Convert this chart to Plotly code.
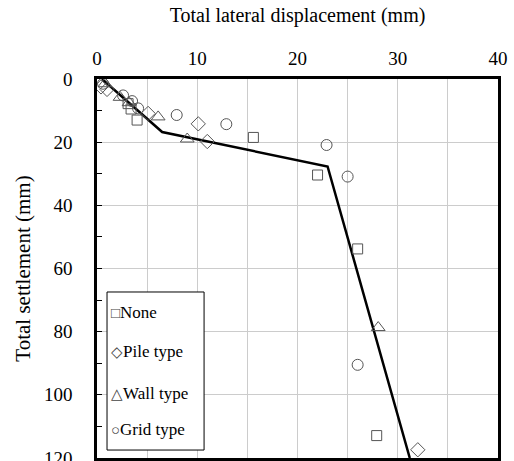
import plotly.graph_objects as go

# Data
none_x = [3.1, 3.4, 4.0, 15.6, 22.0, 26.0, 27.9]
none_y = [7.8, 9.5, 13.0, 18.5, 30.4, 53.8, 112.9]
pile_x = [0.4, 1.0, 5.1, 10.1, 11.0, 32.0]
pile_y = [2.5, 3.3, 10.9, 14.2, 19.8, 117.4]
wall_x = [0.8, 2.3, 3.2, 6.1, 9.0, 28.05]
wall_y = [1.5, 5.8, 7.5, 12.0, 19.0, 78.7]
grid_x = [0.6, 2.6, 3.5, 4.1, 7.95, 12.9, 22.9, 25.0, 26.0]
grid_y = [1.5, 5.2, 7.0, 9.3, 11.4, 14.3, 20.9, 30.9, 90.5]
fit_x = [0.5, 6.5, 23.0, 31.2]
fit_y = [0.0, 16.8, 27.7, 120.0]

series = [
    ("None", "□", none_x, none_y, "square-open", 10),
    ("Pile type", "◇", pile_x, pile_y, "diamond-open", 11),
    ("Wall type", "△", wall_x, wall_y, "triangle-up-open", 12),
    ("Grid type", "○", grid_x, grid_y, "circle-open", 11),
]

font = "Liberation Serif, Times New Roman, serif"

fig = go.Figure()
fig.add_trace(go.Scatter(x=fit_x, y=fit_y, mode="lines",
                         line=dict(color="black", width=2.5),
                         showlegend=False, hoverinfo="skip"))
for i, (name, glyph, xs, ys, sym, sz) in enumerate(series):
    fig.add_trace(go.Scatter(x=xs, y=ys, mode="markers", name=name,
                             showlegend=False,
                             marker=dict(symbol=sym, size=sz, color="#555555",
                                         line=dict(width=1, color="#555555"))))

# manual legend box
fig.add_shape(type="rect", xref="paper", yref="paper",
              x0=0.025, x1=0.267, y0=0.021, y1=0.438,
              line=dict(color="black", width=1), fillcolor="white", layer="above")
leg_y = [0.385, 0.282, 0.171, 0.074]
for (name, glyph, *_), yy in zip(series, leg_y):
    fig.add_annotation(xref="paper", yref="paper", x=0.03, y=yy,
                       xanchor="left", yanchor="middle", showarrow=False,
                       text=f"<span style='font-size:15px;color:#444'>{glyph}</span>{name}",
                       font=dict(family=font, size=17, color="black"))

fig.update_layout(
    width=514, height=461,
    margin=dict(l=97, r=16, t=79, b=3, autoexpand=False),
    paper_bgcolor="white", plot_bgcolor="white",
    font=dict(family=font, size=18, color="black"),
    showlegend=False,
    xaxis=dict(side="top", range=[0, 40], dtick=10, tick0=0, automargin=False,
               showgrid=True, gridcolor="#cccccc", gridwidth=1,
               minor=dict(dtick=5, showgrid=True, gridcolor="#cccccc"),
               showline=True, linecolor="black", linewidth=2.5, mirror=True,
               ticks="", zeroline=False, ticklabelstandoff=4,
               title=dict(text="Total lateral displacement (mm)",
                          font=dict(family=font, size=20), standoff=20),
               tickfont=dict(family=font, size=19)),
    yaxis=dict(range=[120, 0], dtick=20, tick0=0, automargin=False,
               showgrid=True, gridcolor="#cccccc", gridwidth=1,
               showline=True, linecolor="black", linewidth=2.5, mirror=True,
               ticks="inside", ticklen=5, tickcolor="black", tickwidth=1,
               minor=dict(dtick=10, ticks="inside", ticklen=5, tickcolor="black", showgrid=False),
               zeroline=False, ticklabelstandoff=18, ticklabeloverflow="allow",
               title=dict(text="Total settlement (mm)",
                          font=dict(family=font, size=21), standoff=8),
               tickfont=dict(family=font, size=19)),
)

fig.write_html("out.html")
